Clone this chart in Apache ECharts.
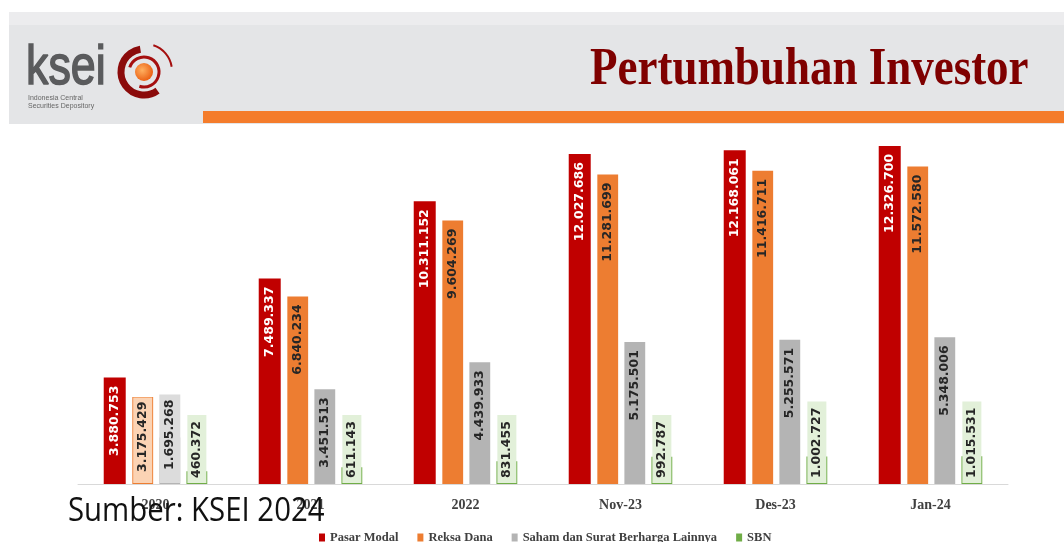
<!DOCTYPE html>
<html>
<head>
<meta charset="utf-8">
<script src="https://cdn.jsdelivr.net/npm/echarts@6/dist/echarts.min.js"></script>
<style>
  html, body { margin: 0; padding: 0; background: #fff; }
  #chart { width: 1064px; height: 542px; }
</style>
</head>
<body>
<div id="chart"></div>
<script>
var categories = ['2020', '2021', '2022', 'Nov-23', 'Des-23', 'Jan-24'];
var pasarModal = [3880753, 7489337, 10311152, 12027686, 12168061, 12326700];
var reksaDana = [3175429, 6840234, 9604269, 11281699, 11416711, 11572580];
var saham = [1695268, 3451513, 4439933, 5175501, 5255571, 5348006];
var sbn = [460372, 611143, 831455, 992787, 1002727, 1015531];

function fmt(v) {
    return String(v).replace(/\B(?=(\d{3})+(?!\d))/g, '.');
}

var baseLabel = {
    show: true,
    rotate: 90,
    position: 'insideTop',
    align: 'right',
    verticalAlign: 'middle',
    distance: 8,
    fontFamily: 'DejaVu Sans',
    fontWeight: 'bold',
    fontSize: 12.5,
    color: '#262626',
    formatter: function (p) { return fmt(p.value); }
};

// label sitting at the base of a short bar, with a pale box behind it
function baseBox(bg, padLeft, padRight, padSide) {
    return {
        position: 'insideBottom',
        align: 'left',
        distance: 1,
        backgroundColor: bg,
        padding: [padSide, padRight, padSide, padLeft]
    };
}

var redData = pasarModal.map(function (v) { return v; });
var orangeData = reksaDana.map(function (v, i) {
    if (i === 0) {
        return { value: v, itemStyle: { color: '#fbd3b4', borderColor: '#ed7d31', borderWidth: 1.5 },
                 label: baseBox('#fbd3b4', 11, 4, 3) };
    }
    return v;
});
var grayData = saham.map(function (v, i) {
    if (i === 0) {
        return { value: v, label: baseBox('#dcdcdc', 13, 5, 4) };
    }
    return v;
});
var greenData = sbn.map(function (v) {
    return { value: v, label: baseBox('#e2f0d9', 5, 6, 3) };
});

var myChart = echarts.init(document.getElementById('chart'));
var option = {
    backgroundColor: '#ffffff',
    animation: false,
    grid: { left: 78, right: 56, top: 100, bottom: 58 },
    legend: {
        left: 314,
        top: 526,
        itemWidth: 6,
        itemHeight: 8,
        itemGap: 19,
        icon: 'rect',
        textStyle: { fontFamily: 'Liberation Serif', fontWeight: 'bold', fontSize: 12.5, color: '#404040' },
        data: [
            { name: 'Pasar Modal' },
            { name: 'Reksa Dana' },
            { name: 'Saham dan Surat Berharga Lainnya' },
            { name: 'SBN', itemStyle: { color: '#70ad47', borderWidth: 0 } }
        ]
    },
    xAxis: {
        type: 'category',
        data: categories,
        axisTick: { show: false },
        axisLine: { lineStyle: { color: '#d9d9d9', width: 1 } },
        axisLabel: { fontFamily: 'Liberation Serif', fontWeight: 'bold', fontSize: 14, color: '#404040', margin: 14 }
    },
    yAxis: {
        type: 'value',
        min: 0,
        max: 14000000,
        show: false,
        splitLine: { show: false }
    },
    series: [{
        name: 'Pasar Modal',
        type: 'bar',
        barWidth: 22,
        barGap: '30%',
        itemStyle: { color: '#c00000' },
        label: Object.assign({}, baseLabel, { color: '#ffffff' }),
        data: redData
    }, {
        name: 'Reksa Dana',
        type: 'bar',
        itemStyle: { color: '#ed7d31' },
        label: baseLabel,
        data: orangeData
    }, {
        name: 'Saham dan Surat Berharga Lainnya',
        type: 'bar',
        itemStyle: { color: '#b4b4b4' },
        label: baseLabel,
        data: grayData
    }, {
        name: 'SBN',
        type: 'bar',
        itemStyle: { color: '#e2f0d9', borderColor: '#70ad47', borderWidth: 2 },
        label: baseLabel,
        data: greenData
    }],
    graphic: [
        // header band
        { type: 'rect', z: -1, shape: { x: 9, y: 12, width: 1055, height: 112 }, style: { fill: '#e4e5e7' } },
        { type: 'rect', z: -1, shape: { x: 9, y: 12, width: 1055, height: 13 }, style: { fill: '#ececee' } },
        { type: 'rect', z: 0, shape: { x: 203, y: 111, width: 861, height: 12 }, style: { fill: '#f47c2b' } },
        // logo
        { type: 'text', x: 26, y: 69, scaleX: 0.8, z: 5,
          style: { text: 'ksei', fontFamily: 'Liberation Sans', fontSize: 56, fill: '#5a5b5d',
                   stroke: '#5a5b5d', lineWidth: 1.6, verticalAlign: 'middle' } },
        { type: 'arc', z: 5, shape: { cx: 144, cy: 72, r: 23, startAngle: Math.PI * 0.3, endAngle: Math.PI * 1.45 },
          style: { stroke: '#8b0b0b', lineWidth: 7, fill: null } },
        { type: 'arc', z: 5, shape: { cx: 144, cy: 72, r: 15, startAngle: Math.PI * 1.1, endAngle: Math.PI * 2.6 },
          style: { stroke: '#a50f0f', lineWidth: 3, fill: null } },
        { type: 'arc', z: 5, shape: { cx: 145, cy: 71, r: 27, startAngle: Math.PI * 1.6, endAngle: Math.PI * 1.95 },
          style: { stroke: '#a50f0f', lineWidth: 2, fill: null } },
        { type: 'circle', z: 6, shape: { cx: 144, cy: 72, r: 9 },
          style: { fill: new echarts.graphic.RadialGradient(0.4, 0.4, 0.7, [
              { offset: 0, color: '#ffb060' }, { offset: 1, color: '#e8560a' }]) } },
        { type: 'text', x: 28, y: 95, z: 5,
          style: { text: 'Indonesia Central', fontFamily: 'Liberation Sans', fontSize: 7, fill: '#666666' } },
        { type: 'text', x: 28, y: 103, z: 5,
          style: { text: 'Securities Depository', fontFamily: 'Liberation Sans', fontSize: 7, fill: '#666666' } },
        // title
        { type: 'text', x: 590, y: 71, scaleX: 0.865, z: 5,
          style: { text: 'Pertumbuhan Investor', fontFamily: 'Liberation Serif', fontWeight: 'bold',
                   fontSize: 52, fill: '#7f0000', verticalAlign: 'middle' } },
        // source note over the axis labels
        { type: 'text', x: 68, y: 512, scaleX: 0.89, z: 100,
          style: { text: 'Sumber: KSEI 2024', fontFamily: 'Open Sans', fontSize: 33, fill: '#111111', verticalAlign: 'middle' } }
    ]
};

myChart.setOption(option);
</script>
</body>
</html>
